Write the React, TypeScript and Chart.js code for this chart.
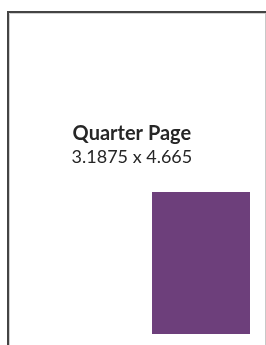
import React, { useEffect, useRef } from "react";
import { Chart, registerables } from "chart.js";

Chart.register(...registerables);

// Page and ad sizes (inches)
const pageSize = [8.375, 11];
const adSize = [3.1875, 4.665];
const adOrigin = [4.684, 5.913];
const titleLines = ["Quarter Page", "3.1875 x 4.665"];

const pagePlugin = {
  id: "pagePlugin",
  beforeDatasetsDraw(chart: any) {
    const { ctx, scales } = chart;
    const xs = scales.x;
    const ys = scales.y;
    const l = xs.getPixelForValue(0);
    const r = xs.getPixelForValue(pageSize[0]);
    const t = ys.getPixelForValue(0);
    const b = ys.getPixelForValue(pageSize[1]);
    ctx.save();
    ctx.strokeStyle = "#d0d0d0";
    ctx.lineWidth = 1;
    ctx.beginPath();
    ctx.moveTo(l + 1.5, b);
    ctx.lineTo(l + 1.5, t + 1.5);
    ctx.lineTo(r, t + 1.5);
    ctx.stroke();
    ctx.strokeStyle = "#444444";
    ctx.lineWidth = 2;
    ctx.beginPath();
    ctx.moveTo(l, b);
    ctx.lineTo(l, t);
    ctx.lineTo(r + 1, t);
    ctx.stroke();
    ctx.strokeStyle = "#c8c8c8";
    ctx.lineWidth = 1;
    ctx.beginPath();
    ctx.moveTo(265.5, t + 1);
    ctx.lineTo(265.5, b);
    ctx.stroke();
    ctx.restore();
  },
  afterDatasetsDraw(chart: any) {
    const { ctx, scales } = chart;
    const cx = scales.x.getPixelForValue(4.03);
    ctx.save();
    ctx.fillStyle = "#262626";
    ctx.textAlign = "center";
    ctx.textBaseline = "alphabetic";
    ctx.font = "bold 20px Lato";
    ctx.fillText(titleLines[0], cx, scales.y.getPixelForValue(4.205));
    ctx.font = "18px Lato";
    ctx.fillText(titleLines[1], cx, scales.y.getPixelForValue(4.96));
    ctx.restore();
  },
};

export default function App() {
  const ref = useRef<HTMLCanvasElement>(null);
  useEffect(() => {
    if (!ref.current) return;
    const x0 = adOrigin[0];
    const x1 = adOrigin[0] + adSize[0];
    const y0 = adOrigin[1];
    const y1 = adOrigin[1] + adSize[1];
    const chart = new Chart(ref.current, {
      type: "scatter",
      data: {
        datasets: [
          {
            label: "Quarter Page",
            data: [
              { x: x0, y: y0 },
              { x: x1, y: y0 },
            ],
            showLine: true,
            borderWidth: 0,
            pointRadius: 0,
            borderColor: "rgba(0,0,0,0)",
            backgroundColor: "#6d3f7b",
            fill: { value: y1 },
          } as any,
        ],
      },
      options: {
        responsive: false,
        animation: false,
        layout: { padding: 0 },
        plugins: { legend: { display: false }, tooltip: { enabled: false } },
        scales: {
          x: { type: "linear", display: false, min: -8 / 30.745, max: -8 / 30.745 + 266 / 30.745 },
          y: { type: "linear", display: false, reverse: true, min: -12 / 30.44, max: -12 / 30.44 + 345 / 30.44 },
        },
      },
      plugins: [pagePlugin],
    });
    return () => chart.destroy();
  }, []);
  return (
    <canvas
      ref={ref}
      width={266}
      height={345}
      style={{ position: "absolute", left: 0, top: 0, width: 266, height: 345 }}
    />
  );
}
